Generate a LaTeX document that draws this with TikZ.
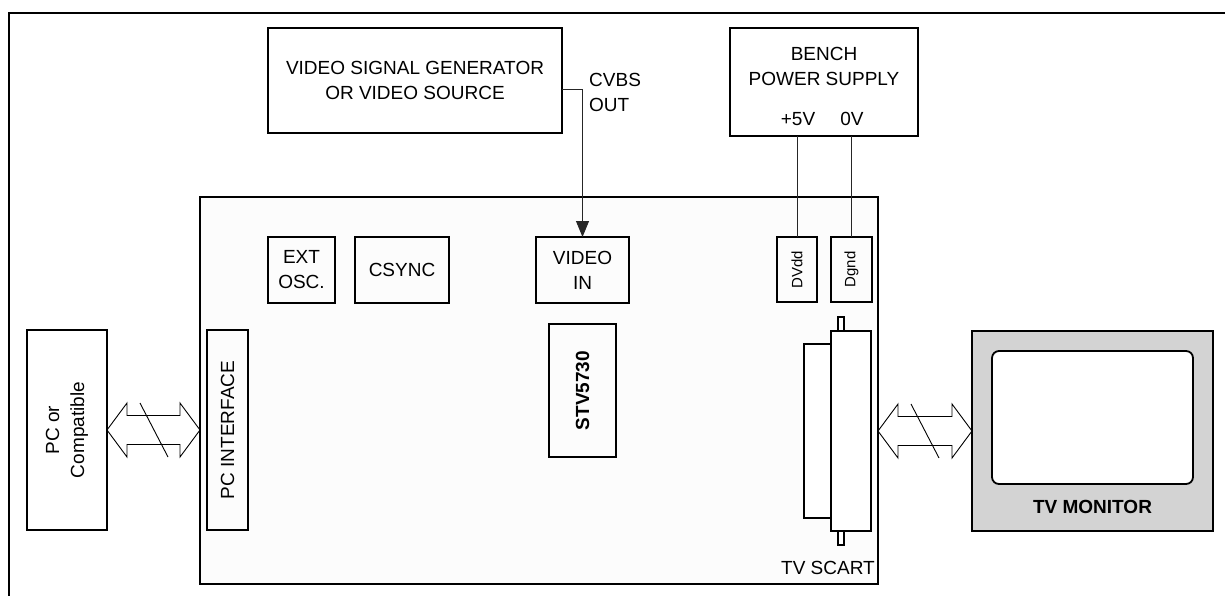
\documentclass[tikz,border=0pt]{standalone}
\usepackage{fontspec}
\setmainfont{Liberation Sans}
\usetikzlibrary{arrows.meta,calc}
\definecolor{boardfill}{RGB}{252,252,252}
\definecolor{tvgray}{RGB}{211,211,211}
\newcommand{\busarrow}[2]{%
  \draw[busline] let \p1=(#1), \p2=(#2) in
    (\x1,\y1) -- (\x1+20pt,\y1+27pt) -- (\x1+20pt,\y1+14.5pt) -- (\x2-20pt,\y1+14.5pt)
    -- (\x2-20pt,\y1+27pt) -- (\x2,\y1) -- (\x2-20pt,\y1-27pt) -- (\x2-20pt,\y1-14.5pt)
    -- (\x1+20pt,\y1-14.5pt) -- (\x1+20pt,\y1-27pt) -- cycle
    (\x1+33pt,\y1+27pt) -- (\x1+61pt,\y1-27pt);}
\begin{document}
\begin{tikzpicture}[x=1pt,y=-1pt,
  every node/.style={font=\fontsize{19}{25}\selectfont, inner sep=0pt, align=center},
  box/.style={draw, line width=1.8pt, outer sep=0pt},
  smallbox/.style={box, font=\fontsize{15}{18}\selectfont},
  wire/.style={line width=0.9pt, black!85},
  busline/.style={line width=0.9pt, black},
  frame/.style={line width=2pt}]
\useasboundingbox (0,0) rectangle (1225,595);
% outer frame (open at right and bottom)
\draw[frame] (8.5,600) -- (8.5,12.5) -- (1230,12.5);

% external equipment
\node[box, minimum width=294, minimum height=105] (gen) at (415,80.5)
  {VIDEO SIGNAL GENERATOR\\OR VIDEO SOURCE};
\node[align=left, anchor=west] (cvbs) at (589,92) {CVBS\\OUT};

\node[box, minimum width=188, minimum height=108] (psu) at (824,82) {};
\node (psut) at (824,66.5) {BENCH\\POWER SUPPLY};
\node (v5) at (798,119) {+5V};
\node (v0) at (852,119) {0V};

% board
\node[box, fill=boardfill, minimum width=678, minimum height=387] (board) at (539,390.5) {};
\node[box, minimum width=67, minimum height=66] (osc) at (301.5,270) {EXT\\OSC.};
\node[box, minimum width=94, minimum height=66] (csync) at (402,270) {CSYNC};
\node[box, minimum width=93, minimum height=66] (vin) at (582.5,270) {VIDEO\\IN};
\node[box, rotate=90, minimum width=133, minimum height=67, font=\fontsize{19}{25}\selectfont\bfseries]
  (stv) at (582.5,390.5) {STV5730};
\node[box, rotate=90, minimum width=200, minimum height=41] (pcif) at (227.5,430) {PC INTERFACE};
\node[smallbox, rotate=90, minimum width=65, minimum height=40] (dvdd) at (797,269.5) {DVdd};
\node[smallbox, rotate=90, minimum width=65, minimum height=41] (dgnd) at (851.5,269.5) {Dgnd};

% SCART connector
\node[box, fill=white, minimum width=6, minimum height=14] (tabt) at (841,324) {};
\node[box, fill=white, minimum width=6, minimum height=14] (tabb) at (841,538) {};
\node[box, fill=white, minimum width=27, minimum height=174] (scarts) at (817.5,431) {};
\node[box, fill=white, minimum width=40, minimum height=200] (scart) at (851,431) {};
\node[anchor=base east] (scartlbl) at (875,574) {TV SCART};

% PC
\node[box, rotate=90, minimum width=200, minimum height=80] (pc) at (67,430) {PC or\\Compatible};

% TV monitor
\node[draw, line width=1.4pt, fill=tvgray, minimum width=241, minimum height=200, outer sep=0pt]
  (tv) at (1092.5,431) {};
\node[box, fill=white, rounded corners=7pt, minimum width=201, minimum height=133] (screen) at (1092.5,417.5) {};
\node[font=\fontsize{19}{25}\selectfont\bfseries] (tvl) at (1092.5,507) {TV MONITOR};

% connections
\draw[wire, -{Triangle[width=13pt,length=16pt]}] ([yshift=-8.5pt]gen.east) -| (vin.north);
\draw[wire] (psu.south -| dvdd.center) -- (dvdd.east);
\draw[wire] (psu.south -| dgnd.center) -- (dgnd.east);
\busarrow{pc.south}{board.west |- pc.south}
\busarrow{board.east |- tv.west}{tv.west}
\end{tikzpicture}
\end{document}
